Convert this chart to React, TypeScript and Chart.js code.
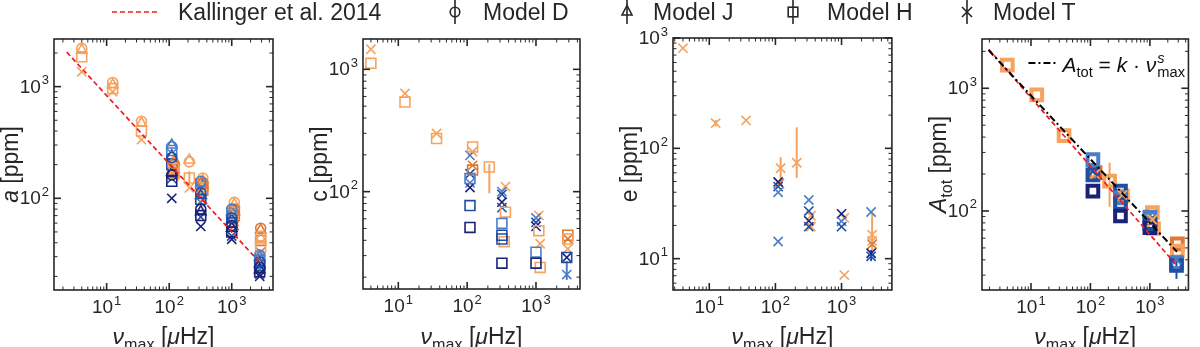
import React, { useEffect, useRef } from "react";
import { Chart, registerables } from "chart.js";

Chart.register(...registerables);

// ------------------------------------------------------------------ DATA
// point = [nu_max (µHz), value (ppm), star group, errLow?, errHigh?]
type Pt = [number, number, string, number?, number?];

const seriesLabels = ["Kallinger et al. 2014", "Model D", "Model J", "Model H", "Model T"];
const groupKeys = ["LO", "DO", "LB", "MB", "NB"];

// panel a
const kallingerA = [[2.3, 2040], [2920, 26]];
const aModelD: Pt[] = [
  [4, 2200, "LO"], [12.5, 1090, "LO"], [36, 490, "LO"], [120, 205, "DO"], [120, 190, "LO"],
  [210, 212, "LO"], [345, 152, "LO"], [345, 138, "DO"], [1100, 92, "LO"], [1100, 80, "DO"],
  [2900, 54, "DO"], [2900, 46, "LO"], [110, 290, "LB"], [110, 232, "MB"], [110, 162, "NB"],
  [320, 142, "LB"], [320, 112, "MB"], [320, 80, "NB"], [1000, 80, "LB"], [1000, 67, "MB"],
  [1000, 57, "NB"], [2800, 31, "LB"], [2800, 27, "MB"], [2800, 24, "NB"],
];
const aModelJ: Pt[] = [
  [4, 2120, "LO"], [12.5, 1040, "LO"], [36, 470, "LO"], [120, 215, "DO"], [120, 182, "LO"],
  [210, 220, "LO"], [345, 145, "LO"], [345, 132, "DO"], [1100, 88, "LO"], [1100, 76, "DO"],
  [2900, 52, "DO"], [2900, 44, "LO"], [110, 300, "LB"], [110, 240, "MB"], [110, 170, "NB"],
  [320, 136, "LB"], [320, 106, "MB"], [320, 76, "NB"], [1000, 76, "LB"], [1000, 64, "MB"],
  [1000, 54, "NB"], [2800, 30, "LB"], [2800, 26, "MB"], [2800, 23, "NB"],
];
const aModelH: Pt[] = [
  [4, 1850, "LO"], [12.5, 960, "LO"], [36, 400, "LO"], [120, 178, "DO"], [120, 168, "LO"],
  [210, 152, "LO", 132, 175], [345, 128, "LO"], [345, 118, "DO"], [1100, 78, "LO"], [1100, 70, "DO"],
  [2900, 42, "DO"], [2900, 36, "LO"], [110, 268, "LB"], [110, 200, "MB"], [110, 142, "NB"],
  [320, 134, "LB"], [320, 98, "MB"], [320, 70, "NB"], [1000, 74, "LB"], [1000, 61, "MB"],
  [1000, 50, "NB"], [2800, 28, "LB"], [2800, 25, "MB"], [2800, 22, "NB"],
];
const aModelT: Pt[] = [
  [4, 1360, "LO"], [12.5, 900, "LO"], [36, 335, "LO"], [120, 172, "DO"], [120, 158, "LO"],
  [210, 124, "LO"], [345, 108, "LO"], [345, 98, "DO"], [1100, 62, "LO"], [1100, 57, "DO"],
  [2900, 33, "DO"], [2900, 30, "LO"], [110, 198, "LB"], [110, 150, "MB"], [110, 100, "NB"],
  [320, 92, "LB"], [320, 68, "MB"], [320, 56, "NB"], [1000, 60, "LB"], [1000, 46, "MB"],
  [1000, 43, "NB"], [2800, 23, "LB"], [2800, 21, "MB"], [2800, 20, "NB"],
];

// panel c
const cModelH: Pt[] = [
  [4, 1120, "LO"], [12.5, 540, "LO"], [36, 272, "LO"], [120, 232, "LO"], [120, 150, "DO"],
  [210, 159, "LO", 97, 168], [360, 68, "LO"], [345, 39, "LO"], [1100, 48, "LO"], [1150, 24, "LO"],
  [2900, 44, "DO"], [2900, 41, "LO"], [110, 128, "LB"], [110, 77, "MB"], [110, 51, "NB"],
  [320, 55, "LB"], [320, 44, "MB"], [320, 41, "MB"], [320, 26, "NB"], [1000, 32, "LB"],
  [1000, 26, "NB"], [2800, 29, "MB"],
];
const cModelT: Pt[] = [
  [4, 1460, "LO"], [12.5, 635, "LO"], [36, 299, "LO"], [120, 212, "LO"], [120, 164, "DO"],
  [360, 110, "LO"], [1100, 64, "LO"], [1150, 37.5, "LO"], [2900, 41, "DO"], [2900, 34, "LO"],
  [110, 198, "LB"], [110, 140, "MB"], [110, 118, "LB"], [110, 108, "NB"], [320, 100, "LB"],
  [320, 95, "MB"], [320, 82, "NB"], [320, 74, "MB"], [1000, 61, "LB"], [1000, 56, "MB"],
  [1000, 52, "NB"], [2800, 29, "NB"], [2800, 21, "LB", 19, 27],
];

// panel e
const eModelT: Pt[] = [
  [4, 809, "LO"], [12.5, 169, "LO", 158, 181], [36, 179, "LO"], [120, 66, "LO", 50, 83],
  [115, 48, "DO"], [210, 74, "LO", 54, 155], [345, 24.5, "LO"], [345, 19.5, "LO"],
  [1100, 23.4, "LO"], [1100, 7.1, "LO"], [2900, 16.5, "LO", 12, 26], [2900, 14.5, "LO"],
  [2900, 13.5, "DO"], [110, 49.6, "NB"], [110, 45, "MB"], [110, 40, "LB"], [110, 14.3, "LB"],
  [320, 34, "LB"], [320, 27, "MB"], [320, 22, "NB"], [320, 19.5, "MB"], [1000, 25.5, "NB"],
  [1000, 21.8, "LB"], [1000, 19.5, "MB"], [2800, 26.5, "LB"], [2800, 11.2, "NB"],
  [2800, 10.5, "MB", 9.5, 12],
];

// panel A_tot
const kallingerAtot = [[1.95, 2080], [2857, 35.8]];
const powerLawFit = [[1.93, 2045], [2857, 46.5]];
const atotModelH: Pt[] = [
  [4, 1545, "LO"], [12.5, 883, "LO"], [36, 411, "LO"], [120, 205, "DO"], [210, 175, "LO", 108, 248],
  [345, 133, "LO"], [1100, 97, "LO"], [1150, 72, "LO"], [2900, 54, "DO"], [2900, 47, "LO"],
  [110, 262, "LB"], [110, 197, "MB"], [110, 145, "NB"], [320, 145, "MB"], [320, 128, "LB"],
  [320, 115, "MB"], [320, 91, "NB"], [1000, 89, "LB"], [1000, 79, "MB"], [1000, 73, "NB"],
  [2800, 38, "LB"], [2800, 36, "MB", 28, 40],
];
const atotModelT: Pt[] = [
  [120, 200, "LO"], [345, 135, "LO"], [1000, 92, "LB"], [1100, 85, "LO"], [2800, 40, "LB"], [110, 210, "MB"],
];

// ------------------------------------------------------------------ STYLE
const FONT = '"Liberation Sans", Arial, Helvetica, sans-serif';
const INK = "#262626";
const groupColor: Record<string, string> = {
  LO: "#F5A35F",
  DO: "#E3772F",
  LB: "#4C7DC8",
  MB: "#1E4FA5",
  NB: "#1A2377",
};
void groupKeys;

type Seg = { t?: string; it?: boolean; sub?: boolean; ss?: [string, string] };
const fnt = (s: number, it = false) => `${it ? "italic " : ""}${s}px ${FONT}`;

function drawRich(ctx: CanvasRenderingContext2D, segs: Seg[], size: number, x0: number, y0: number, paint = true) {
  let x = x0;
  ctx.textAlign = "left";
  ctx.textBaseline = "alphabetic";
  for (const s of segs) {
    if (s.ss) {
      const sz = size * 0.7;
      ctx.font = fnt(sz, true);
      const w1 = ctx.measureText(s.ss[0]).width;
      if (paint) ctx.fillText(s.ss[0], x + 1, y0 - size * 0.42);
      ctx.font = fnt(sz, false);
      const w2 = ctx.measureText(s.ss[1]).width;
      if (paint) ctx.fillText(s.ss[1], x + 1, y0 + size * 0.24);
      x += Math.max(w1, w2) + 1;
    } else if (s.sub) {
      ctx.font = fnt(size * 0.7, s.it);
      if (paint) ctx.fillText(s.t!, x, y0 + size * 0.24);
      x += ctx.measureText(s.t!).width;
    } else {
      ctx.font = fnt(size, s.it);
      if (paint) ctx.fillText(s.t!, x, y0);
      x += ctx.measureText(s.t!).width;
    }
  }
  return x - x0;
}

function drawPow(ctx: CanvasRenderingContext2D, e: number, x: number, y: number, align: "center" | "right") {
  const big = 19, small = 13;
  ctx.textAlign = "left";
  ctx.textBaseline = "alphabetic";
  ctx.font = fnt(big);
  const w1 = ctx.measureText("10").width;
  ctx.font = fnt(small);
  const w2 = ctx.measureText(String(e)).width;
  const w = w1 + w2 + 1;
  const x0 = align === "center" ? x - w / 2 : x - w;
  ctx.font = fnt(big);
  ctx.fillText("10", x0, y);
  ctx.font = fnt(small);
  ctx.fillText(String(e), x0 + w1 + 1, y - 8.5);
}

function logTicks(min: number, max: number) {
  const out: { v: number; major: boolean; e: number }[] = [];
  for (let e = Math.floor(Math.log10(min)); e <= Math.ceil(Math.log10(max)); e++) {
    for (let m = 1; m <= 9; m++) {
      const v = m * Math.pow(10, e);
      if (v >= min * 0.999 && v <= max * 1.001) out.push({ v, major: m === 1, e });
    }
  }
  return out;
}

const decorPlugin = {
  id: "decor",
  beforeDatasetsDraw(chart: any) {
    const ctx = chart.ctx as CanvasRenderingContext2D;
    const ys = chart.scales.y;
    chart.data.datasets.forEach((ds: any, i: number) => {
      if (!ds.errs) return;
      const meta = chart.getDatasetMeta(i);
      ds.errs.forEach((er: any, j: number) => {
        if (!er) return;
        const el = meta.data[j];
        ctx.save();
        ctx.strokeStyle = ds.pointBorderColor[j];
        ctx.lineWidth = 2;
        ctx.beginPath();
        ctx.moveTo(el.x, ys.getPixelForValue(er[0]));
        ctx.lineTo(el.x, ys.getPixelForValue(er[1]));
        ctx.stroke();
        ctx.restore();
      });
    });
  },
  afterDraw(chart: any, _a: any, o: any) {
    const ctx = chart.ctx as CanvasRenderingContext2D;
    const ca = chart.chartArea;
    const xs = chart.scales.x, ys = chart.scales.y;
    ctx.save();
    ctx.strokeStyle = INK;
    ctx.fillStyle = INK;
    const seg = (a: number, b: number, c: number, d: number) => {
      ctx.beginPath(); ctx.moveTo(a, b); ctx.lineTo(c, d); ctx.stroke();
    };
    for (const t of logTicks(xs.min, xs.max)) {
      const px = xs.getPixelForValue(t.v);
      const L = t.major ? 7 : 3.5;
      ctx.lineWidth = t.major ? 1.6 : 1;
      seg(px, ca.bottom, px, ca.bottom - L);
      seg(px, ca.top, px, ca.top + L);
      if (t.major) drawPow(ctx, t.e, px, ca.bottom + 23, "center");
    }
    for (const t of logTicks(ys.min, ys.max)) {
      const py = ys.getPixelForValue(t.v);
      const L = t.major ? 7 : 3.5;
      ctx.lineWidth = t.major ? 1.6 : 1;
      seg(ca.left, py, ca.left + L, py);
      seg(ca.right, py, ca.right - L, py);
      if (t.major) drawPow(ctx, t.e, ca.left - 5, py + 6, "right");
    }
    ctx.lineWidth = 1.6;
    ctx.strokeRect(ca.left, ca.top, ca.right - ca.left, ca.bottom - ca.top);

    // x title
    const tsz = 23;
    const wx = drawRich(ctx, o.xTitle, tsz, 0, 0, false);
    drawRich(ctx, o.xTitle, tsz, (ca.left + ca.right) / 2 - wx / 2, chart.height - 3);
    // y title
    const wy = drawRich(ctx, o.yTitle, tsz, 0, 0, false);
    ctx.save();
    ctx.translate(ca.left - 36, (ca.top + ca.bottom) / 2);
    ctx.rotate(-Math.PI / 2);
    drawRich(ctx, o.yTitle, tsz, -wy / 2, 0);
    ctx.restore();

    // inline legend for the fit
    if (o.fit) {
      const y = ca.top + 24;
      ctx.save();
      ctx.strokeStyle = "#000";
      ctx.lineWidth = 2;
      ctx.setLineDash([7, 3, 2, 3]);
      seg(ca.right - 160, y, ca.right - 131, y);
      ctx.restore();
      ctx.fillStyle = "#111";
      drawRich(ctx, o.fit, 21, ca.right - 126, ca.top + 33);
    }
    ctx.restore();
  },
};

// marker styles per model
const markerStyle: Record<string, { style: string; r: number }> = {
  D: { style: "circle", r: 5 },
  J: { style: "triangle", r: 6 },
  H: { style: "rect", r: 7 },
  T: { style: "crossRot", r: 6.5 },
};

function scatterSet(points: Pt[], model: string, label: string, bw = 1.6, rScale = 1) {
  const m = markerStyle[model];
  return {
    label,
    data: points.map((p) => ({ x: p[0], y: p[1] })),
    errs: points.map((p) => (p[3] != null ? [p[3], p[4]] : null)),
    pointStyle: m.style,
    pointRadius: m.r * rScale,
    pointBorderWidth: bw,
    pointBorderColor: points.map((p) => groupColor[p[2]]),
    pointBackgroundColor: "rgba(0,0,0,0)",
    showLine: false,
  };
}

function lineSet(pts: number[][], color: string, dash: number[], width: number, label: string) {
  return {
    label,
    data: pts.map(([x, y]) => ({ x, y })),
    showLine: true,
    pointRadius: 0,
    borderColor: color,
    borderWidth: width,
    borderDash: dash,
    fill: false,
  };
}

const nuTitle: Seg[] = [{ t: "ν", it: true }, { t: "max", sub: true }, { t: " [" }, { t: "μ", it: true }, { t: "Hz]" }];

const panels = [
  {
    left: 0,
    pad: { left: 54, right: 27, top: 39, bottom: 57 },
    x: [1.44, 4570],
    y: [15.1, 2670],
    yTitle: [{ t: "a", it: true }, { t: " [ppm]" }] as Seg[],
    fit: null as Seg[] | null,
    sets: () => [
      lineSet(kallingerA, "#EE1C1C", [5, 3], 1.7, seriesLabels[0]),
      scatterSet(aModelD, "D", seriesLabels[1]),
      scatterSet(aModelJ, "J", seriesLabels[2]),
      scatterSet(aModelH, "H", seriesLabels[3]),
      scatterSet(aModelT, "T", seriesLabels[4]),
    ],
  },
  {
    left: 300,
    pad: { left: 63, right: 20, top: 39, bottom: 58 },
    x: [3.07, 4360],
    y: [16.0, 1770],
    yTitle: [{ t: "c" }, { t: " [ppm]" }] as Seg[],
    fit: null,
    sets: () => [
      scatterSet(cModelH, "H", seriesLabels[3]),
      scatterSet(cModelT, "T", seriesLabels[4]),
    ],
  },
  {
    left: 600,
    pad: { left: 73, right: 8, top: 38, bottom: 57 },
    x: [2.83, 5770],
    y: [5.2, 1000],
    yTitle: [{ t: "e" }, { t: " [ppm]" }] as Seg[],
    fit: null,
    sets: () => [scatterSet(eModelT, "T", seriesLabels[4])],
  },
  {
    left: 900,
    pad: { left: 82, right: 2, top: 39, bottom: 57 },
    x: [1.5, 4450],
    y: [22.7, 2520],
    yTitle: [{ t: "A", it: true }, { t: "tot", sub: true }, { t: " [ppm]" }] as Seg[],
    fit: [
      { t: "A", it: true }, { t: "tot", sub: true }, { t: " = " }, { t: "k", it: true },
      { t: " · " }, { t: "ν", it: true }, { ss: ["s", "max"] },
    ] as Seg[],
    sets: () => [
      lineSet(powerLawFit, "#000000", [7, 3, 2, 3], 2, "fit"),
      lineSet(kallingerAtot, "#EE1C1C", [5, 3], 1.7, seriesLabels[0]),
      scatterSet(atotModelT, "T", seriesLabels[4], 2),
      scatterSet(atotModelH, "H", seriesLabels[3], 4, 1.08),
    ],
  },
];

function Panel({ p }: { p: (typeof panels)[number] }) {
  const ref = useRef<HTMLCanvasElement>(null);
  useEffect(() => {
    const chart = new Chart(ref.current!, {
      type: "scatter",
      data: { datasets: p.sets() as any },
      options: {
        animation: false,
        responsive: false,
        devicePixelRatio: 1,
        events: [],
        layout: { padding: p.pad },
        scales: {
          x: { type: "logarithmic", min: p.x[0], max: p.x[1], display: false },
          y: { type: "logarithmic", min: p.y[0], max: p.y[1], display: false },
        },
        plugins: {
          legend: { display: false },
          tooltip: { enabled: false },
          decor: { xTitle: nuTitle, yTitle: p.yTitle, fit: p.fit },
        } as any,
      },
      plugins: [decorPlugin as any],
    });
    return () => chart.destroy();
  }, []);
  return (
    <canvas
      ref={ref}
      width={300}
      height={347}
      style={{ position: "absolute", left: p.left, top: 0, width: 300, height: 347 }}
    />
  );
}

// legend icons (figure level)
function Icon({ kind }: { kind: string }) {
  const s = { stroke: INK, strokeWidth: 1.6, fill: "none" };
  return (
    <svg width={16} height={26} style={{ position: "absolute", left: 0, top: 0 }}>
      <line x1={8} y1={0} x2={8} y2={24} {...s} />
      {kind === "D" && <circle cx={8} cy={12} r={4.8} {...s} />}
      {kind === "J" && <polygon points="8,5.5 3,15 13,15" {...s} />}
      {kind === "H" && <rect x={3.2} y={7.2} width={9.6} height={9.6} {...s} />}
      {kind === "T" && (
        <g {...s}>
          <line x1={3} y1={7} x2={13} y2={17} />
          <line x1={13} y1={7} x2={3} y2={17} />
        </g>
      )}
    </svg>
  );
}

const legendPos = [
  { icon: "line", ix: 112, tx: 178 },
  { icon: "D", ix: 447, tx: 483 },
  { icon: "J", ix: 619, tx: 653 },
  { icon: "H", ix: 785, tx: 827 },
  { icon: "T", ix: 959, tx: 993 },
];

export default function App() {
  const textStyle = {
    position: "absolute" as const,
    top: 1,
    fontFamily: FONT,
    fontSize: 23,
    lineHeight: "22px",
    color: INK,
    whiteSpace: "nowrap" as const,
  };
  return (
    <div style={{ position: "fixed", left: 0, top: 0, width: 1200, height: 347, background: "#fff", overflow: "hidden" }}>
      {panels.map((p, i) => (
        <Panel key={i} p={p} />
      ))}
      {legendPos.map((l, i) => (
        <React.Fragment key={i}>
          {l.icon === "line" ? (
            <svg width={48} height={6} style={{ position: "absolute", left: l.ix, top: 9 }}>
              <line x1={0} y1={3} x2={47} y2={3} stroke="#EE1C1C" strokeWidth={1.7} strokeDasharray="5 3" />
            </svg>
          ) : (
            <div style={{ position: "absolute", left: l.ix, top: 0, width: 16, height: 26 }}>
              <Icon kind={l.icon} />
            </div>
          )}
          <span style={{ ...textStyle, left: l.tx }}>{seriesLabels[i]}</span>
        </React.Fragment>
      ))}
    </div>
  );
}
